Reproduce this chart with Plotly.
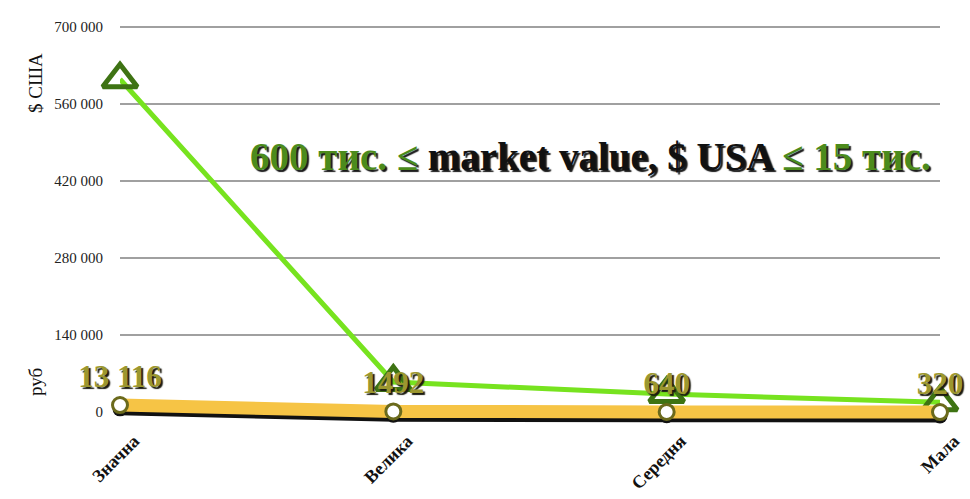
import plotly.graph_objects as go

categories = ["Значна", "Велика", "Середня", "Мала"]
usd_values = [605000, 55000, 33000, 18000]
rub_values = [13116, 1492, 640, 320]
rub_labels = ["13 116", "1492", "640", "320"]
y_tickvals = [0, 140000, 280000, 420000, 560000, 700000]
y_ticktext = ["0", "140 000", "280 000", "420 000", "560 000", "700 000"]

SERIF = "Liberation Serif, Times New Roman, serif"
Y_MIN, Y_MAX = -25000, 703600
SHIFT = 7000
ML, MR, MT, MB = 120, 30, 25, 73
W, H = 970, 499

fig = go.Figure()

# USD line (main axis, beneath the rub band)
fig.add_trace(go.Scatter(
    x=categories, y=usd_values, mode="lines+markers",
    line=dict(color="#77e31f", width=5),
    marker=dict(symbol="triangle-up-open", size=30, color="#3e7313",
                line=dict(width=5)),
    cliponaxis=False, showlegend=False))

# shadow of the rub band (offset overlay axis)
fig.add_trace(go.Scatter(
    x=categories, y=rub_values, yaxis="y2", mode="lines+markers",
    line=dict(color="#111111", width=13),
    marker=dict(symbol="circle", size=15, color="#111111"),
    cliponaxis=False, hoverinfo="skip", showlegend=False))

# rub band
fig.add_trace(go.Scatter(
    x=categories, y=rub_values, yaxis="y3", mode="lines+markers+text",
    line=dict(color="#f6c445", width=13),
    marker=dict(symbol="circle", size=15, color="white",
                line=dict(color="#6b6a1c", width=3)),
    text=rub_labels, textposition="top center",
    textfont=dict(family=SERIF, size=31, color="#9c972f",
                  weight="bold", shadow="2px 2px 1px #1b1b10"),
    cliponaxis=False, showlegend=False))

hidden = dict(overlaying="y", visible=False)
fig.update_layout(
    width=W, height=H,
    margin=dict(l=ML, r=MR, t=MT, b=MB, autoexpand=False),
    paper_bgcolor="white", plot_bgcolor="white",
    xaxis=dict(type="category", range=[0, 3], showgrid=False, zeroline=False,
               showline=False, tickangle=-45, ticklabelshift=14, automargin=False,
               tickfont=dict(family=SERIF, size=18, color="#111111", weight="bold")),
    yaxis=dict(range=[Y_MIN, Y_MAX], tickvals=y_tickvals, ticktext=y_ticktext,
               showgrid=True, gridcolor="#a0a0a0", gridwidth=1.5, zeroline=False,
               showline=False, ticklabelstandoff=16, automargin=False,
               tickfont=dict(family=SERIF, size=15, color="#222222")),
    yaxis2=dict(range=[Y_MIN + SHIFT, Y_MAX + SHIFT], **hidden),
    yaxis3=dict(range=[Y_MIN, Y_MAX], **hidden),
)

pw, ph = W - ML - MR, H - MT - MB
def px(x):
    return (x - ML) / pw
def py(y):
    return 1 - (y - MT) / ph

fig.add_annotation(text="$ США", x=px(35), y=py(83), xref="paper", yref="paper",
                   xanchor="center", yanchor="middle", textangle=-90, showarrow=False,
                   font=dict(family=SERIF, size=19, color="#111111"))
fig.add_annotation(text="руб", x=px(35), y=py(382), xref="paper", yref="paper",
                   xanchor="center", yanchor="middle", textangle=-90, showarrow=False,
                   font=dict(family=SERIF, size=19, color="#111111"))
fig.add_annotation(
    text=("<span style='color:#4c8b1c'>600 тис. ≤</span> market value, $ USA "
          "<span style='color:#4c8b1c'>≤ 15 тис.</span>"),
    x=px(590), y=py(156), xref="paper", yref="paper",
    xanchor="center", yanchor="middle", showarrow=False,
    font=dict(family=SERIF, size=39, color="#111111", weight="bold",
              shadow="2px 2px 1px #1a1a1a"))

fig.write_html("out.html", config={"displayModeBar": False},
               post_script="document.body.style.margin='0';")
